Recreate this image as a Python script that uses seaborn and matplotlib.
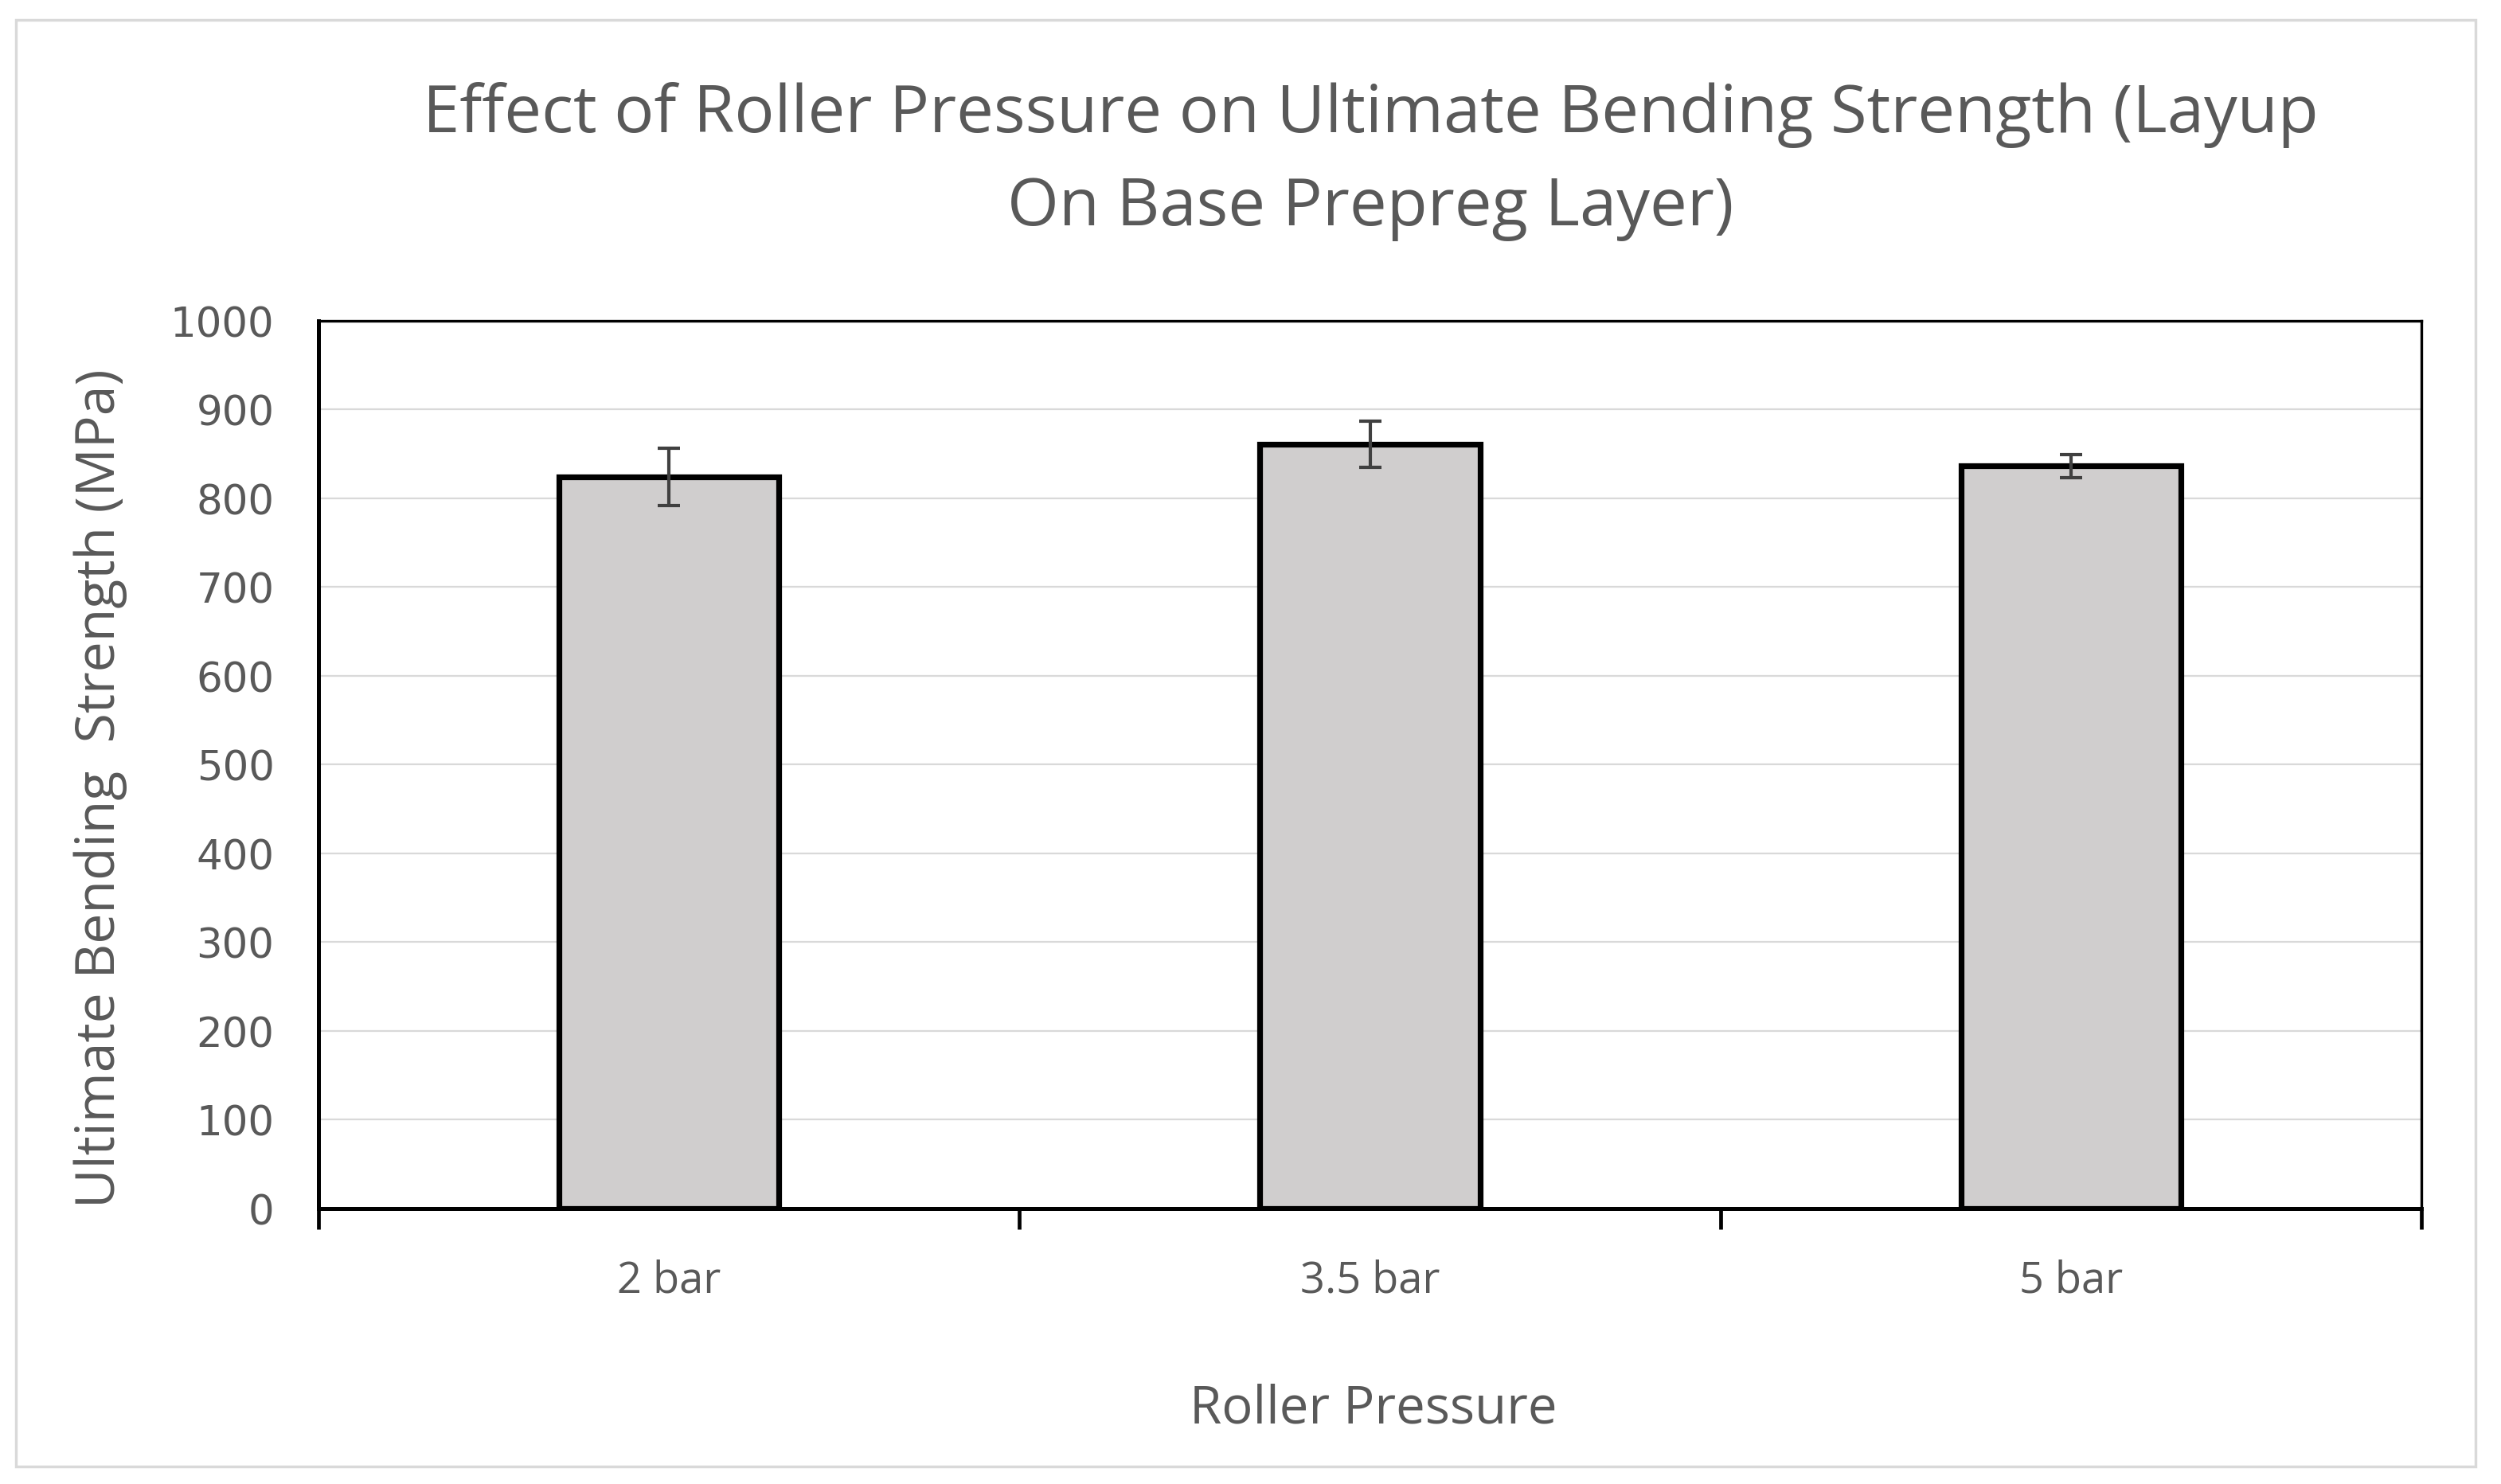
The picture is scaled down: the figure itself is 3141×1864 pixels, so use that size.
import matplotlib
matplotlib.use("Agg")
import matplotlib.pyplot as plt
from matplotlib.patches import Rectangle
from matplotlib.ticker import FixedLocator
import seaborn as sns
import pandas as pd

categories = ["2 bar", "3.5 bar", "5 bar"]
strength = [824, 861, 836]
errors = [32, 26, 13]
yticks = [0, 100, 200, 300, 400, 500, 600, 700, 800, 900, 1000]

title_lines = ["Effect of Roller Pressure on Ultimate Bending Strength (Layup",
               "On Base Prepreg Layer)"]
xlabel = "Roller Pressure"
ylabel = "Ultimate Bending  Strength (MPa)"

sns.set_theme(style="white")
plt.rcParams['font.family'] = ['Open Sans', 'DejaVu Sans']

W, H, DPI = 3141, 1865, 100
fig = plt.figure(figsize=(W / DPI, H / DPI), dpi=DPI)
fig.patch.set_facecolor("white")

# outer chart border
fig.patches.append(Rectangle((20 / W, 22 / H), (3109 - 20) / W, (1839 - 22) / H,
                             transform=fig.transFigure, fill=False,
                             edgecolor="#d9d9d9", linewidth=2.5))

ax = fig.add_axes([400 / W, 1 - 1519 / H, (3041 - 400) / W, (1519 - 403.5) / H])

df = pd.DataFrame({"cat": categories, "val": strength})
sns.barplot(data=df, x="cat", y="val", ax=ax, color="#d0cece", width=0.314,
            errorbar=None, edgecolor="black", linewidth=5.2, saturation=1)

ax.errorbar(range(len(categories)), strength, yerr=errors, fmt="none",
            ecolor="#404040", elinewidth=3.0, capsize=10, capthick=3.0, zorder=5)

ax.set_ylim(0, 1000)
ax.set_xlim(-0.5, len(categories) - 0.5)
ax.yaxis.set_major_locator(FixedLocator(yticks))
ax.grid(axis="y", color="#d9d9d9", linewidth=1.6)
ax.set_axisbelow(True)

for s in ax.spines.values():
    s.set_visible(True)
    s.set_color("black")
    s.set_linewidth(2.4)
ax.spines["bottom"].set_linewidth(3.6)
ax.spines["left"].set_linewidth(3.6)

ax.tick_params(axis="y", length=0, pad=40, labelsize=37, labelcolor="#595959")
for t in ax.get_yticklabels():
    t.set_family("DejaVu Sans")
ax.tick_params(axis="x", which="major", length=0, pad=45, labelsize=39, labelcolor="#595959")
ax.xaxis.set_minor_locator(FixedLocator([-0.5, 0.5, 1.5, 2.5]))
ax.tick_params(axis="x", which="minor", bottom=True, length=19, width=3.4, color="black")

ax.set_xlabel("")
ax.set_ylabel("")
fig.text(126 / W, 1 - 990 / H, ylabel, rotation=90, ha="center", va="center",
         fontsize=49, color="#595959")
fig.text(1725 / W, 1 - 1771 / H, xlabel, ha="center", va="center",
         fontsize=47, color="#595959")
fig.text(1721 / W, 1 - 144 / H, title_lines[0], ha="center", va="center",
         fontsize=60, color="#595959")
fig.text(1721 / W, 1 - 262 / H, title_lines[1], ha="center", va="center",
         fontsize=60, color="#595959")

fig.savefig("out.png", dpi=DPI, facecolor="white")
